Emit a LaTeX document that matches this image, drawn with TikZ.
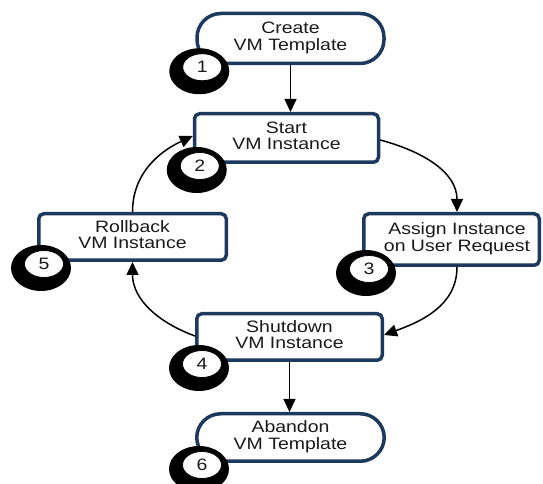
\documentclass[tikz,border=0pt]{standalone}
\usepackage{fontspec}
\setmainfont{Liberation Sans}
\usetikzlibrary{arrows.meta,calc,shapes.geometric}
\definecolor{navy}{HTML}{1D3A5E}
\definecolor{ink}{HTML}{1A1A1A}
\newcommand{\twol}[2]{\raisebox{-2.5pt}{\scalebox{1.18}[1]{\fontsize{16.5}{16.5}\selectfont\begin{tabular}{@{}c@{}}#1\\#2\end{tabular}}}}
\newcommand{\bdg}[3]{%
  \fill[black] ($(#2.south west)+(4,-6)$) ellipse [x radius=30pt, y radius=23pt];
  \node[badgenum] (#1) at ($(#2.south west)+(7,-2)$) {\scalebox{1.18}[1]{#3}};}
\begin{document}
\begin{tikzpicture}[x=1pt,y=1pt,
  box/.style={draw=navy, line width=3.5pt, fill=white, rounded corners=5pt, inner sep=0pt, text=ink},
  stadium/.style={box, rounded corners=24pt},
  arr/.style={line width=1.5pt, draw=black, -{Triangle[length=13pt,width=12pt]}},
  badgenum/.style={ellipse, draw=black, line width=0.8pt, fill=white, minimum width=39pt, minimum height=27pt, inner sep=0pt, text=ink, font=\fontsize{16.5}{16}\selectfont}]
\useasboundingbox (0,0) rectangle (543,484);
\node[stadium, minimum width=187pt, minimum height=50pt] (n1) at (290.5,445.5) {\twol{Create}{VM Template}};
\node[box, minimum width=184pt, minimum height=48.5pt] (n2) at (286.5,346) {\twol{Start}{VM Instance}};
\node[box, minimum width=175.5pt, minimum height=51.5pt] (n3) at (451.5,244.5) {\hspace*{11pt}\twol{Assign Instance}{on User Request}};
\node[box, minimum width=185.5pt, minimum height=46.5pt] (n4) at (289.5,147) {\twol{Shutdown}{VM Instance}};
\node[box, minimum width=187.5pt, minimum height=46.5pt] (n5) at (132.5,247) {\twol{Rollback}{VM Instance}};
\node[stadium, minimum width=187.5pt, minimum height=47.5pt] (n6) at (290.5,46.5) {\twol{Abandon}{VM Template}};
% connectors
\draw[arr] (n1.south) -- (n1.south |- n2.north);
\draw[arr] ([yshift=-2pt]n2.east) to[out=-15,in=90] ([xshift=5.5pt]n3.north);
\draw[arr] ([xshift=5.5pt]n3.south) to[out=-90,in=20] ([yshift=2pt]n4.east);
\draw[arr] ([yshift=1pt]n4.west) to[out=160,in=-90] (n5.south);
\draw[arr] (n5.north) to[out=90,in=205] ([yshift=2pt]n2.west);
\draw[arr] (n4.south) -- (n4.south |- n6.north);
% badges
\bdg{b1}{n1}{1}
\bdg{b2}{n2}{2}
\bdg{b3}{n3}{3}
\bdg{b4}{n4}{4}
\bdg{b5}{n5}{5}
\bdg{b6}{n6}{6}
\end{tikzpicture}
\end{document}
